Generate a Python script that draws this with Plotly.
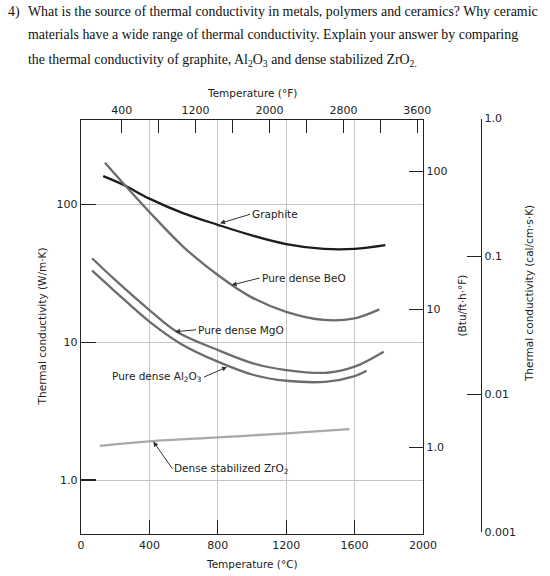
import math
import plotly.graph_objects as go

# ---------------- data ----------------
temp_graphite = [130, 250, 400, 600, 800, 990, 1200, 1420, 1600, 1780]
k_graphite = [160, 138, 110, 86, 71, 60, 51.5, 47.5, 47.5, 50.5]

temp_beo = [140, 265, 400, 600, 800, 990, 1200, 1420, 1600, 1745]
k_beo = [200, 134, 88, 49, 30.7, 21.4, 16.6, 14.5, 14.9, 17.3]

temp_mgo = [65, 190, 400, 560, 800, 1010, 1200, 1440, 1600, 1770]
k_mgo = [40.6, 29.0, 17.1, 11.9, 8.77, 7.0, 6.28, 6.0, 6.64, 8.53]

temp_al2o3 = [65, 190, 400, 580, 800, 1010, 1200, 1440, 1590, 1670]
k_al2o3 = [33.0, 23.9, 14.1, 9.8, 7.22, 5.78, 5.25, 5.17, 5.62, 6.21]

temp_zro2 = [110, 400, 800, 1200, 1570]
k_zro2 = [1.77, 1.91, 2.04, 2.18, 2.34]

c_ticks = [0, 400, 800, 1200, 1600, 2000]
f_major_ticks = [400, 1200, 2000, 2800, 3600]
f_minor_ticks = [800, 1600, 2400, 3200]
wmk_ticks = [1, 10, 100]
wmk_labels = ["1.0", "10", "100"]
btu_ticks = [1, 10, 100]
btu_labels = ["1.0", "10", "100"]
cal_ticks = [0.001, 0.01, 0.1, 1.0]
cal_labels = ["0.001", "0.01", "0.1", "1.0"]

# unit conversions
W_TO_BTU = 0.5778
W_TO_CAL = 0.0023885

# ---------------- layout geometry ----------------
W, H = 550, 576
ML, MR, MT, MB = 81, 30, 118, 42
PW = W - ML - MR
PH = H - MT - MB
DX = 342 / PW          # x domain end
DY = 414 / PH          # main y domain end

Y_MIN, Y_MAX = 0.406, 409.0         # W/m·K range
L0, L1 = math.log10(Y_MIN), math.log10(Y_MAX)
F_RANGE = [-41, 3662]

off_cal = -math.log10(W_TO_CAL)
cal_d0 = DY * ((math.log10(cal_ticks[0]) + off_cal) - L0) / (L1 - L0)
cal_d1 = DY * ((math.log10(cal_ticks[-1]) + off_cal) - L0) / (L1 - L0)

FONT = "DejaVu Sans"
TXT = "#222222"
AX = "#222222"
GRID = "#c6c6c6"

fig = go.Figure()

series = [
    ("Graphite", temp_graphite, k_graphite, "#1c1c1c", 2.3),
    ("Pure dense BeO", temp_beo, k_beo, "#6c6c6c", 2.3),
    ("Pure dense MgO", temp_mgo, k_mgo, "#6c6c6c", 2.3),
    ("Pure dense Al2O3", temp_al2o3, k_al2o3, "#6c6c6c", 2.3),
    ("Dense stabilized ZrO2", temp_zro2, k_zro2, "#a9a9a9", 2.3),
]
for name, xs, ys, col, wd in series:
    fig.add_trace(go.Scatter(x=xs, y=ys, mode="lines", name=name,
                             line=dict(color=col, width=wd, shape="spline", smoothing=1.0),
                             showlegend=False, hoverinfo="skip"))

# empty traces so secondary axes exist
fig.add_trace(go.Scatter(x=[], y=[], xaxis="x2", yaxis="y", showlegend=False, hoverinfo="skip"))
fig.add_trace(go.Scatter(x=[], y=[], xaxis="x", yaxis="y2", showlegend=False, hoverinfo="skip"))
fig.add_trace(go.Scatter(x=[], y=[], xaxis="x3", yaxis="y3", showlegend=False, hoverinfo="skip"))

tickfont = dict(family=FONT, size=11, color=TXT)

fig.update_layout(
    width=W, height=H,
    margin=dict(l=ML, r=MR, t=MT, b=MB, pad=0),
    paper_bgcolor="white", plot_bgcolor="white",
    hovermode=False,
    xaxis=dict(domain=[0, DX], range=[0, 2000], tickvals=c_ticks,
               ticks="inside", ticklen=14, tickwidth=1.2, tickcolor=AX,
               showgrid=True, gridcolor=GRID, gridwidth=1,
               showline=True, linecolor=AX, linewidth=1.3, zeroline=False,
               tickfont=tickfont, anchor="y"),
    xaxis2=dict(overlaying="x", side="top", range=F_RANGE, tickvals=f_major_ticks,
                ticks="inside", ticklen=13, tickwidth=1.2, tickcolor=AX,
                minor=dict(tickvals=f_minor_ticks, ticks="inside", ticklen=13,
                           tickwidth=1.2, tickcolor=AX, showgrid=False),
                showgrid=False, showline=True, linecolor=AX, linewidth=1.3, zeroline=False,
                tickfont=tickfont, anchor="y"),
    xaxis3=dict(domain=[0.95, 1.0], visible=False, anchor="y3", range=[0, 1]),
    yaxis=dict(domain=[0, DY], type="log", range=[L0, L1], tickvals=wmk_ticks, ticktext=wmk_labels,
               ticks="inside", ticklen=15, tickwidth=1.2, tickcolor=AX,
               showgrid=True, gridcolor=GRID, gridwidth=1,
               showline=True, linecolor=AX, linewidth=1.3, zeroline=False,
               tickfont=tickfont, anchor="x"),
    yaxis2=dict(overlaying="y", side="right", type="log",
                range=[L0 + math.log10(W_TO_BTU), L1 + math.log10(W_TO_BTU)],
                tickvals=btu_ticks, ticktext=btu_labels,
                ticks="inside", ticklen=14, tickwidth=1.2, tickcolor=AX,
                showgrid=False, showline=True, linecolor=AX, linewidth=1.3, zeroline=False,
                tickfont=tickfont, anchor="x"),
    yaxis3=dict(domain=[cal_d0, cal_d1], anchor="free", position=400 / PW, side="right",
                type="log", range=[math.log10(cal_ticks[0]), math.log10(cal_ticks[-1])],
                tickvals=cal_ticks, ticktext=cal_labels,
                ticks="inside", ticklen=14, tickwidth=1.2, tickcolor=AX,
                showgrid=False, showline=True, linecolor=AX, linewidth=1.3, zeroline=False,
                tickfont=tickfont),
)

def px_x(p):
    return (p - ML) / PW

def px_y(p):
    return (MT + PH - p) / PH

ann_font = dict(family=FONT, size=10.5, color=TXT)
title_font = dict(family=FONT, size=10.5, color=TXT)

# axis titles
titles = [
    ("Temperature (°F)", 0.5 * DX, px_y(92.7), 0),
    ("Temperature (°C)", 0.5 * DX, px_y(564), 0),
    ("Thermal conductivity (W/m·K)", px_x(41.7), px_y(326.7), -90),
    ("(Btu/ft·h·°F)", px_x(461.7), px_y(305.8), -90),
    ("Thermal conductivity (cal/cm·s·K)", px_x(528.3), px_y(293.8), -90),
]
for t, x, y, ang in titles:
    fig.add_annotation(text=t, x=x, y=y, xref="paper", yref="paper", showarrow=False,
                       xanchor="center", yanchor="middle", textangle=ang, font=title_font)

# curve labels with arrows (tip in data coords)
labels = [
    ("Graphite", 813, 72.8, 30, -9, "left"),
    ("Pure dense BeO", 881, 25.97, 28, -7, "left"),
    ("Pure dense MgO", 550, 11.9, 21, -2, "left"),
    ("Pure dense Al<sub>2</sub>O<sub>3</sub>", 854, 6.6, -23, 10, "right"),
    ("Dense stabilized ZrO<sub>2</sub>", 423, 1.90, 19, 27, "left"),
]
for t, xv, yv, ax, ay, anc in labels:
    fig.add_annotation(text=t, x=xv, y=math.log10(yv), xref="x", yref="y",
                       showarrow=True, ax=ax, ay=ay, axref="pixel", ayref="pixel",
                       arrowhead=2, arrowsize=1, arrowwidth=1, arrowcolor="#333333",
                       xanchor=anc, yanchor="middle", font=ann_font)

# question text header
hdr_font = dict(family="Liberation Serif", size=13.9, color="#111111")
fig.add_annotation(text="4)", x=px_x(6), y=px_y(11.7), xref="paper", yref="paper",
                   showarrow=False, xanchor="left", yanchor="middle", font=hdr_font)
header = [
    ("What is the source of thermal conductivity in metals, polymers and ceramics? Why ceramic", 11.7),
    ("materials have a wide range of thermal conductivity. Explain your answer by comparing", 35),
    ("the thermal conductivity of graphite, Al<sub>2</sub>O<sub>3</sub> and dense stabilized ZrO<sub>2.</sub>", 60),
]
for t, yp in header:
    fig.add_annotation(text=t, x=px_x(26), y=px_y(yp), xref="paper", yref="paper",
                       showarrow=False, xanchor="left", yanchor="middle", font=hdr_font)

fig.write_html("out.html",
               config={"displayModeBar": False, "staticPlot": True},
               post_script="document.body.style.margin='0px';document.body.style.overflow='hidden';")
